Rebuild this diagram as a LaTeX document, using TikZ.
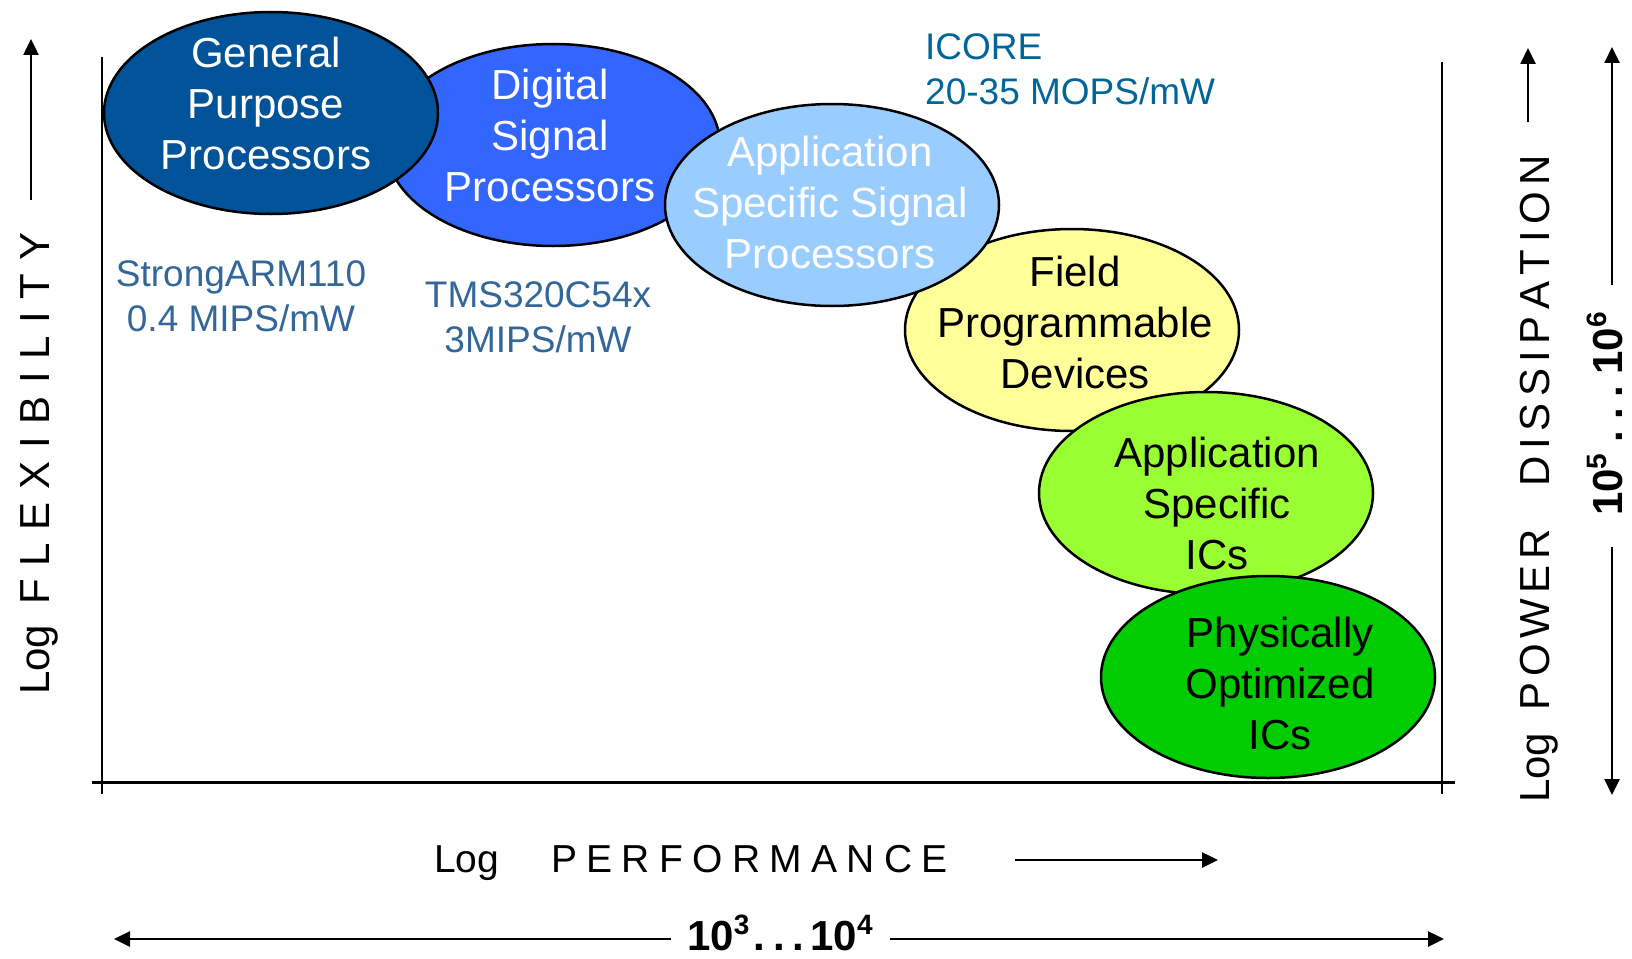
\documentclass[tikz,border=0pt]{standalone}
\usepackage{fontspec}
\setmainfont{Liberation Sans}
\usetikzlibrary{shapes.geometric,arrows.meta}

\definecolor{gppblue}{HTML}{005299}
\definecolor{dspblue}{HTML}{3366FF}
\definecolor{asspblue}{HTML}{99CCFF}
\definecolor{fpdyellow}{HTML}{FFFF99}
\definecolor{asicgreen}{HTML}{99FF33}
\definecolor{poicgreen}{HTML}{00CC00}
\definecolor{notecol}{HTML}{336699}
\definecolor{icorecol}{HTML}{006699}

% letter spacing for the axis captions
\newdimen\lsk
\newcommand\lk{\kern\lsk}
% raised exponent
\newcommand\sups[1]{\raisebox{0.36em}{\fontsize{28}{28}\selectfont #1}}

\tikzset{
  blob/.style={ellipse, draw=black, line width=2.5pt,
    minimum width=334pt, minimum height=202pt, inner sep=0pt},
  blobtext/.style={align=center, inner sep=0pt,
    font=\fontsize{42}{51}\selectfont},
  note/.style={align=center, inner sep=0pt,
    font=\fontsize{37}{45}\selectfont, text=notecol},
  axcap/.style={inner sep=0pt, font=\fontsize{42}{50}\selectfont},
  axline/.style={line width=2pt},
  arr/.style={line width=2.5pt, -{Triangle[length=16pt,width=15pt]}},
}

\begin{document}
\begin{tikzpicture}[x=1pt,y=-1pt]
\useasboundingbox (0,0) rectangle (1632,958);

% chart frame
\coordinate (lvT) at (102,57);
\coordinate (lvB) at (102,794);
\coordinate (rvT) at (1442,62);
\coordinate (rvB) at (1442,794);
\coordinate (hL) at (92,782);
\coordinate (hR) at (1455,782);
\draw[axline] (lvT) -- (lvB);
\draw[axline] (rvT) -- (rvB);
\draw[line width=3pt] (hL) -- (hR);

% device classes
\node[blob, fill=dspblue]   (dsp)  at (553,145) {};
\node[blob, fill=gppblue]   (gpp)  at (271,113) {};
\node[blob, fill=fpdyellow] (fpd)  at (1072,330) {};
\node[blob, fill=asspblue]  (assp) at (832,205) {};
\node[blob, fill=asicgreen] (asic) at (1206,493) {};
\node[blob, fill=poicgreen] (poic) at (1268,677) {};

\node[blobtext, text=white] (gppT)  at (266,103) {General\\Purpose\\Processors};
\node[blobtext, text=white] (dspT)  at (550,135) {Digital\\Signal\\Processors};
\node[blobtext, text=white] (asspT) at (830,202) {Application\\Specific Signal\\Processors};
\node[blobtext] (fpdT)  at (1075,322) {Field\\Programmable\\Devices};
\node[blobtext] (asicT) at (1217,503) {Application\\Specific\\ICs};
\node[blobtext] (poicT) at (1280,683) {Physically\\Optimized\\ICs};

% example devices
\node[note] (arm) at (241,296) {StrongARM110\\0.4 MIPS/mW};
\node[note] (tms) at (538,317) {TMS320C54x\\3MIPS/mW};
\node[note, align=left, text=icorecol, anchor=north west] (icore) at (925,33)
  {ICORE\\20-35 MOPS/mW};

% vertical caption, left
\node[axcap, rotate=90, anchor=base west] (flex) at (49,695)
  {\lsk=12.7pt Log\kern20pt F\lk L\lk E\lk X\lk I\lk B\lk I\lk L\lk I\lk T\lk Y};
\coordinate (flexA) at (31,200);
\coordinate (flexB) at (31,39);
\draw[arr] (flexA) -- (flexB);

% vertical caption, right
\node[axcap, rotate=90, anchor=base west] (pow) at (1549,803)
  {\lsk=5.5pt Log\kern22.7pt P\lk O\lk W\lk E\lk R\kern43pt
   \lsk=6.5pt D\lk I\lk S\lk S\lk I\lk P\lk A\lk T\lk I\lk O\lk N};
\coordinate (powA) at (1528,122);
\coordinate (powB) at (1528,48);
\draw[arr] (powA) -- (powB);

% power range
\node[axcap, font=\fontsize{42}{50}\selectfont\bfseries, rotate=90, anchor=base] (prange) at (1622,414)
  {10\sups{5}\kern11pt.\kern11pt.\kern11pt.\kern11pt10\sups{6}};
\coordinate (prUpA) at (1612,285);
\coordinate (prUpB) at (1612,47);
\coordinate (prDnA) at (1612,547);
\coordinate (prDnB) at (1612,795);
\draw[arr] (prUpA) -- (prUpB);
\draw[arr] (prDnA) -- (prDnB);

% horizontal caption
\node[axcap, font=\fontsize{39}{46}\selectfont, anchor=base west] (perf) at (434,872)
  {\lsk=9.3pt Log\kern52pt P\lk E\lk R\lk F\lk O\lk R\lk M\lk A\lk N\lk C\lk E};
\coordinate (perfA) at (1015,860);
\coordinate (perfB) at (1218,860);
\draw[arr] (perfA) -- (perfB);

% performance range
\node[axcap, font=\fontsize{42}{50}\selectfont\bfseries, anchor=base] (hrange) at (780,950)
  {10\sups{3}\kern4pt.\kern8pt.\kern8pt.\kern6pt10\sups{4}};
\coordinate (hrLA) at (671,939);
\coordinate (hrLB) at (114,939);
\coordinate (hrRA) at (890,939);
\coordinate (hrRB) at (1444,939);
\draw[arr] (hrLA) -- (hrLB);
\draw[arr] (hrRA) -- (hrRB);
\end{tikzpicture}
\end{document}
